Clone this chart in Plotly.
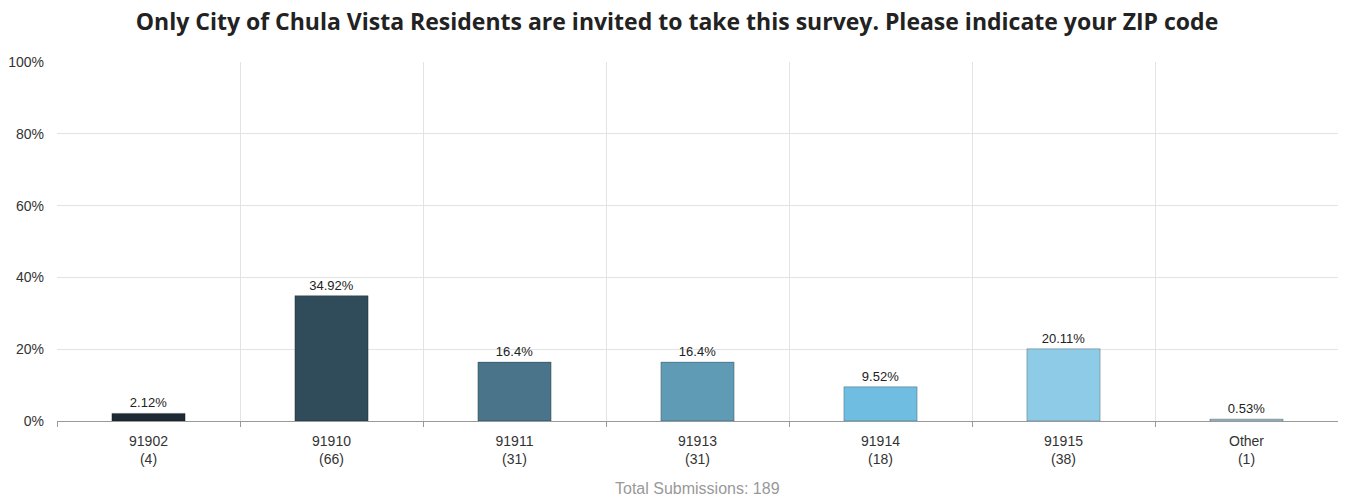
import plotly.graph_objects as go

categories = ["91902", "91910", "91911", "91913", "91914", "91915", "Other"]
counts = [4, 66, 31, 31, 18, 38, 1]
percents = [2.12, 34.92, 16.4, 16.4, 9.52, 20.11, 0.53]
colors = ["#1e2a33", "#304b5a", "#4a7489", "#5f9bb5", "#6fbde0", "#8ecbe6", "#a3c2d2"]
total = 189
yticks = [0, 20, 40, 60, 80, 100]

ticktext = [f"{c}<br>({n})" for c, n in zip(categories, counts)]

fig = go.Figure(go.Bar(
    x=categories,
    y=percents,
    width=0.4,
    marker=dict(color=colors, line=dict(color="rgba(0,0,0,0.25)", width=1)),
    text=[f"{p}%" for p in percents],
    textposition="outside",
    textfont=dict(family="Arial, Liberation Sans", size=13, color="#222"),
    cliponaxis=False,
    hoverinfo="skip",
))

fig.update_layout(
    width=1338, height=494,
    margin=dict(l=49, r=8, t=54, b=81, autoexpand=False),
    paper_bgcolor="white", plot_bgcolor="white",
    title=dict(
        text="Only City of Chula Vista Residents are invited to take this survey. Please indicate your ZIP code",
        x=0.5, xanchor="center", y=1 - 14 / 494, yanchor="middle",
        font=dict(family="Open Sans", size=23, color="#222", weight="bold"),
    ),
    showlegend=False,
    xaxis=dict(
        type="category",
        tickvals=categories, ticktext=ticktext,
        tickson="boundaries",
        ticks="outside", ticklen=5, tickcolor="#999",
        ticklabelstandoff=7,
        showgrid=True, gridcolor="#e3e3e3", gridwidth=1,
        showline=True, linecolor="#999", linewidth=1,
        tickfont=dict(family="Arial, Liberation Sans", size=14, color="#333"),
        range=[-0.5, len(categories) - 0.5],
        automargin=False,
    ),
    yaxis=dict(
        range=[0, 100],
        tickvals=yticks, ticktext=[f"{v}%" for v in yticks],
        showgrid=True, gridcolor="#e3e3e3", gridwidth=1,
        zeroline=False,
        ticks="", ticklabelstandoff=12,
        tickfont=dict(family="Arial, Liberation Sans", size=14, color="#333"),
        automargin=False,
    ),
    annotations=[dict(
        text=f"Total Submissions: {total}",
        x=0.5, xref="paper", y=-67 / 359, yref="paper",
        xanchor="center", yanchor="middle", showarrow=False,
        font=dict(family="Arial, Liberation Sans", size=16, color="#999"),
    )],
)

fig.write_html("out.html")
